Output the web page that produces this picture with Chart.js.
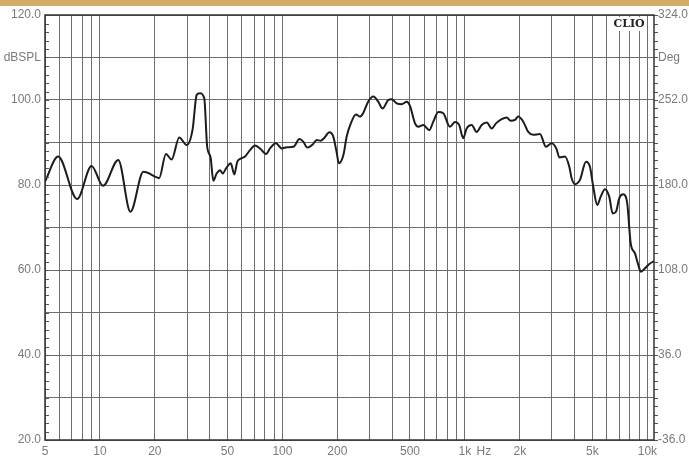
<!DOCTYPE html>
<html>
<head>
<meta charset="utf-8">
<script src="https://cdn.jsdelivr.net/npm/chart.js@4/dist/chart.umd.min.js"></script>
<style>
    html, body { margin: 0; padding: 0; background: #fff; }
    #wrap { width: 689px; height: 457px; }
</style>
</head>
<body>
<div id="wrap"><canvas id="chart" width="689" height="457"></canvas></div>
<script>
"use strict";

// frequency (Hz) and level (dB SPL)
var freqHz = [5.0, 5.9, 7.5, 9.0, 10.4, 12.6, 14.7, 17.3, 20.5, 21.1, 23.0, 24.7, 27.2, 29.9, 32.2,
    33.9, 35.3, 37.3, 38.7, 40.4, 41.8, 43.6, 45.5, 47.1, 49.1, 52.1, 54.5, 56.6, 59.8, 62.4,
    66.4, 70.7, 75.4, 81.3, 85.5, 92.2, 99.1, 106, 115, 124, 130, 137, 147, 154, 162,
    169, 181, 190, 198, 204, 216, 225, 237, 253, 266, 277, 295, 315, 335, 354,
    380, 397, 423, 450, 480, 500, 533, 555, 592, 638, 671, 715, 761, 828, 882,
    931, 979, 1022, 1089, 1160, 1236, 1317, 1402, 1480, 1590, 1694, 1781, 1880, 1960, 2088,
    2224, 2369, 2578, 2781, 2988, 3182, 3289, 3536, 3733, 3846, 4010, 4271, 4607, 4845, 5051,
    5312, 5542, 5854, 6182, 6452, 6726, 7015, 7376, 7755, 8097, 8552, 8912, 9222, 9698, 10240, 10866];

var splDb = [80.8, 86.7, 76.7, 84.5, 79.8, 85.9, 73.7, 83.1, 81.8, 81.6, 87.3, 86.0, 91.2, 89.4, 93.1,
    101.2, 101.6, 100.4, 89.0, 86.5, 81.0, 82.7, 83.5, 82.7, 83.9, 85.1, 82.5, 85.5, 86.3, 86.7,
    88.2, 89.3, 88.6, 87.3, 88.6, 89.8, 88.6, 88.9, 89.0, 90.8, 90.2, 88.8, 89.6, 90.6, 90.4,
    91.0, 92.4, 91.4, 87.8, 85.1, 87.1, 91.4, 94.5, 96.6, 96.1, 96.9, 99.6, 100.8, 99.6, 98.0,
    100.0, 100.2, 99.2, 99.0, 99.6, 98.6, 94.5, 93.7, 94.1, 92.9, 94.9, 97.2, 96.9, 93.7, 94.8,
    94.1, 91.0, 93.3, 94.1, 92.5, 94.1, 94.7, 93.3, 94.5, 95.5, 95.9, 95.1, 95.3, 96.1, 94.9,
    92.5, 91.8, 92.0, 89.0, 89.8, 88.4, 86.5, 86.7, 84.3, 81.6, 80.2, 81.2, 85.5, 84.3, 79.6,
    75.3, 77.2, 79.0, 77.2, 73.3, 73.7, 76.9, 77.8, 75.7, 66.3, 63.9, 61.2, 59.6, 60.4, 61.4, 62.1];

// x grid lines and their labels
var xGrid = [5, 6, 7, 8, 9, 10, 20, 30, 40, 50, 60, 70, 80, 90, 100, 200, 300, 400, 500, 600, 700, 800, 900,
    1000, 2000, 3000, 4000, 5000, 6000, 7000, 8000, 9000, 10000];
var xLabelValues = [5, 10, 20, 50, 100, 200, 500, 1000, 2000, 5000, 10000];
var xLabelTexts = ["5", "10", "20", "50", "100", "200", "500", "1k", "2k", "5k", "10k"];
var hzUnitAt = 1270;

var splMin = 20, splMax = 120;
var degMin = -36, degMax = 324;

var gridColor = "#6e6e6e";
var labelColor = "#7a7a7a";

var points = freqHz.map(function(f, i) {
    return { x: f, y: splDb[i] };
});

var frame = {
    id: "clioFrame",
    beforeDraw: function(chart) {
        var c = chart.ctx;
        c.save();
        c.fillStyle = "#ffffff";
        c.fillRect(0, 0, chart.width, chart.height);
        c.fillStyle = "#d5aa65";
        c.fillRect(0, 0, chart.width, 6);
        c.restore();
    },
    afterDraw: function(chart) {
        var c = chart.ctx;
        var a = chart.chartArea;
        var y = chart.scales.y;
        c.save();
        // small ticks every 2 dB: inside on the left, outside on the right
        c.strokeStyle = "#555";
        c.lineWidth = 1;
        c.beginPath();
        for (var v = splMin; v <= splMax; v += 2) {
            var py = Math.round(y.getPixelForValue(v)) + 0.5;
            c.moveTo(a.left, py);
            c.lineTo(a.left + 4, py);
            c.moveTo(a.right, py);
            c.lineTo(a.right + 4, py);
        }
        c.stroke();
        // plot frame
        c.strokeStyle = "#333";
        c.lineWidth = 1.5;
        c.strokeRect(a.left, a.top, a.right - a.left, a.bottom - a.top);
        // CLIO mark
        c.fillStyle = "#ffffff";
        c.fillRect(a.right - 42, a.top + 2, 34, 14);
        c.fillStyle = "#222";
        c.font = "bold 11px 'DejaVu Serif', 'Liberation Serif', serif";
        c.textAlign = "center";
        c.textBaseline = "middle";
        c.fillText("CLIO", a.right - 25, a.top + 9);
        c.restore();
    }
};

new Chart(document.getElementById("chart"), {
    type: "line",
    data: {
        datasets: [{
            data: points,
            borderColor: "#1c1c1c",
            borderWidth: 2,
            pointRadius: 0,
            cubicInterpolationMode: "monotone",
            fill: false
        }]
    },
    plugins: [frame],
    options: {
        responsive: false,
        animation: false,
        layout: { padding: { top: 15, left: 0, right: 0, bottom: 0 } },
        plugins: {
            legend: { display: false },
            tooltip: { enabled: false }
        },
        scales: {
            x: {
                type: "logarithmic",
                min: 5,
                max: 10870,
                border: { display: false },
                grid: {
                    drawTicks: false,
                    lineWidth: 1,
                    color: function(ctx) {
                        return ctx.tick && ctx.tick.value === hzUnitAt ? "rgba(0,0,0,0)" : gridColor;
                    }
                },
                ticks: {
                    autoSkip: false,
                    maxRotation: 0,
                    padding: 4,
                    color: labelColor,
                    font: { family: "'Liberation Sans', Arial, sans-serif", size: 12 },
                    callback: function(value) {
                        if (value === hzUnitAt) {
                            return "Hz";
                        }
                        var i = xLabelValues.indexOf(value);
                        return i >= 0 ? xLabelTexts[i] : "";
                    }
                },
                afterBuildTicks: function(scale) {
                    scale.ticks = xGrid.concat([hzUnitAt]).map(function(v) {
                        return { value: v };
                    });
                    scale.min = 5;
                    scale.max = 10870;
                },
                afterFit: function(scale) {
                    scale.height = 17;
                }
            },
            y: {
                position: "left",
                min: splMin,
                max: splMax,
                border: { display: false },
                grid: { drawTicks: false, color: gridColor, lineWidth: 1 },
                ticks: {
                    stepSize: 10,
                    padding: 4,
                    color: labelColor,
                    font: { family: "'Liberation Sans', Arial, sans-serif", size: 12 },
                    callback: function(v) {
                        if (v === 110) {
                            return "dBSPL";
                        }
                        return v % 20 === 0 ? v.toFixed(1) : "";
                    }
                },
                afterFit: function(scale) {
                    scale.width = 45;
                }
            },
            y2: {
                position: "right",
                min: degMin,
                max: degMax,
                border: { display: false },
                grid: { display: false, drawTicks: false },
                ticks: {
                    stepSize: 36,
                    padding: 4,
                    color: labelColor,
                    font: { family: "'Liberation Sans', Arial, sans-serif", size: 12 },
                    callback: function(v) {
                        if (v === 288) {
                            return "Deg";
                        }
                        return (v - degMin) % 72 === 0 ? v.toFixed(1) : "";
                    }
                },
                afterFit: function(scale) {
                    scale.width = 35;
                }
            }
        }
    }
});
</script>
</body>
</html>
